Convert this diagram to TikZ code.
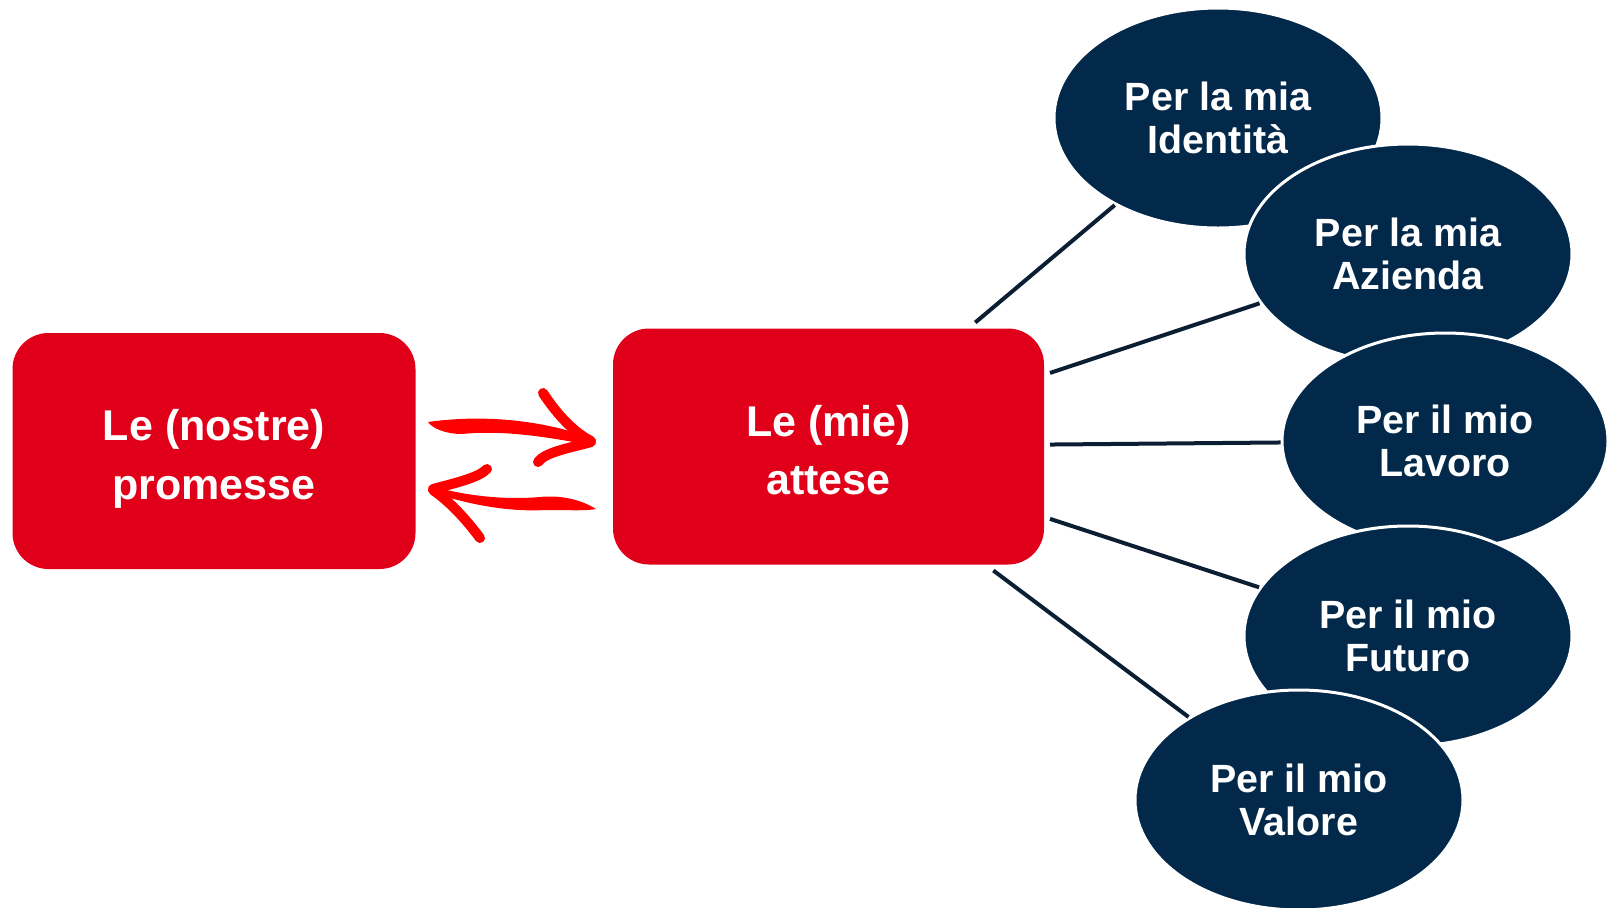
\documentclass[tikz,border=0pt]{standalone}
\usepackage{fontspec}
\setmainfont{Liberation Sans}
\usepackage{xcolor}
\usepackage{tikz}
\usetikzlibrary{shapes.geometric}
\definecolor{promRed}{HTML}{E1001A}
\definecolor{arrowRed}{HTML}{FF0000}
\definecolor{navy}{HTML}{03294A}
\definecolor{navyLine}{HTML}{0B1E33}

\begin{document}
\begin{tikzpicture}[x=0.5pt, y=-0.5pt,
  redbox/.style={fill=promRed, rounded corners=18pt, minimum width=201.5pt,
        minimum height=118pt, inner sep=0pt, outer sep=3pt, text=white,
        text height=50pt, text depth=2pt,
        align=center, font=\fontsize{21.5}{29.2}\selectfont\bfseries},
  bubble/.style={ellipse, fill=navy, draw=white, line width=1.5pt,
        minimum width=164pt, minimum height=110pt, inner sep=0pt, text=white,
        align=center, font=\fontsize{19.7}{21.5}\selectfont\bfseries},
  link/.style={draw=navyLine, line width=2pt},
  brush/.style={draw=arrowRed, line width=5pt, line cap=round}]
  \useasboundingbox (0,0) rectangle (1608,907);

  \node[redbox] (promesse) at (214,451) {Le (nostre)\\promesse};
  \node[redbox, minimum width=215.5pt] (attese) at (828.5,446.5) {Le (mie)\\attese};

  \node[bubble] (identita) at (1218,118) {Per la mia\\Identità};
  \node[bubble] (azienda) at (1408,254) {Per la mia\\Azienda};
  \node[bubble, minimum width=163pt, minimum height=108pt] (lavoro) at (1445,441) {Per il mio\\Lavoro};
  \node[bubble] (futuro) at (1408,636) {Per il mio\\Futuro};
  \node[bubble] (valore) at (1299,800) {Per il mio\\Valore};

  \foreach \goal in {identita,azienda,lavoro,futuro,valore}
    \draw[link] (attese) -- (\goal);

  % arrow towards attese
  \fill[arrowRed] (428,422) .. controls (470,416) and (530,416) .. (592,438)
    -- (594,446) .. controls (545,436) and (500,430) .. (462,434)
    .. controls (445,434) and (432,428) .. cycle;
  \draw[brush] (543,393) .. controls (558,416) and (575,433) .. (591,441);
  \draw[brush] (591,442) .. controls (570,448) and (545,452) .. (538,462);

  % arrow towards promesse
  \fill[arrowRed] (596,509) .. controls (580,499) and (560,495) .. (540,497)
    .. controls (505,500) and (465,496) .. (432,486)
    -- (434,493) .. controls (470,505) and (510,512) .. (545,510)
    .. controls (570,510) and (585,511) .. cycle;
  \draw[brush] (487,469) .. controls (478,478) and (455,483) .. (433,489);
  \draw[brush] (433,490) .. controls (450,502) and (465,518) .. (480,538);
\end{tikzpicture}
\end{document}
